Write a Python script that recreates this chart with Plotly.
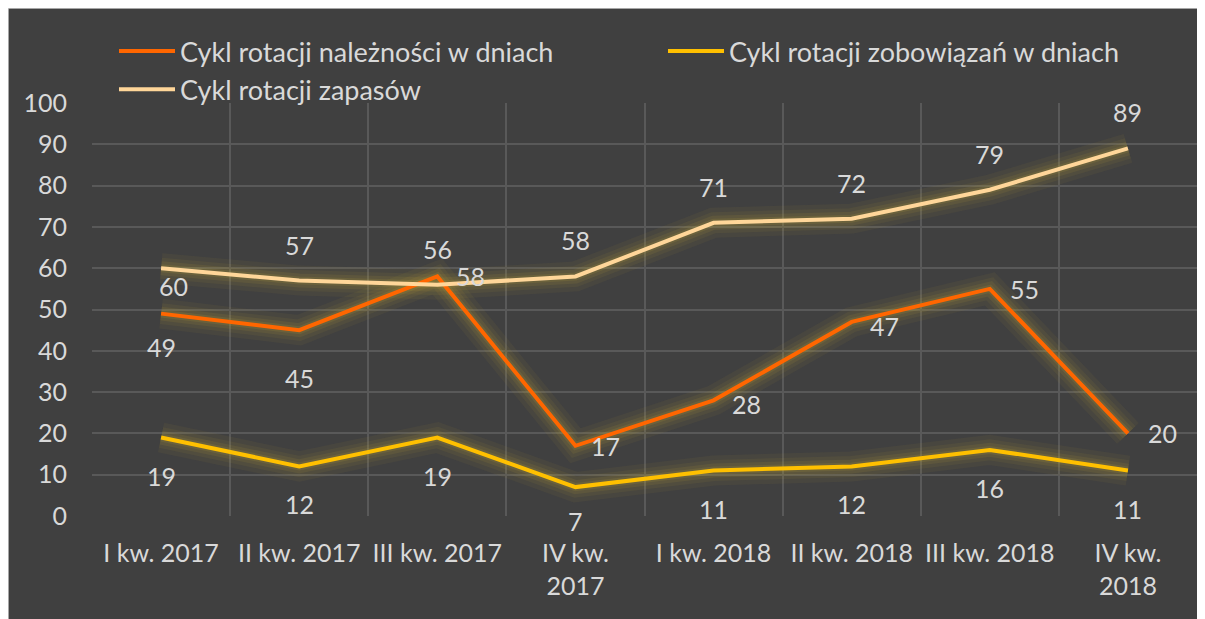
import plotly.graph_objects as go

categories = ["I kw. 2017", "II kw. 2017", "III kw. 2017", "IV kw.<br>2017",
              "I kw. 2018", "II kw. 2018", "III kw. 2018", "IV kw.<br>2018"]
naleznosci = [49, 45, 58, 17, 28, 47, 55, 20]
zobowiazania = [19, 12, 19, 7, 11, 12, 16, 11]
zapasy = [60, 57, 56, 58, 71, 72, 79, 89]

# label placement: (xshift, yshift) in pixels relative to each point
off_naleznosci = [(0, -33), (0, -48), (33, 0), (30, 0), (33, -4), (33, -4), (35, 0), (35, 0)]
off_zobowiazania = [(0, -38), (0, -38), (0, -38), (0, -34), (0, -38), (0, -38), (0, -38), (0, -38)]
off_zapasy = [(12, -18), (0, 36), (0, 36), (0, 36), (0, 36), (0, 36), (0, 36), (0, 36)]

names = ["Cykl rotacji należności w dniach", "Cykl rotacji zobowiązań w dniach",
         "Cykl rotacji zapasów"]
colors = ["#FF6600", "#FFC000", "#FFD699"]

FONT = "Lato"
TXT = "#D9D9D9"
W, H = 1197, 611
L, R, T, B = 84, 8, 95, 103

fig = go.Figure()

series = [naleznosci, zobowiazania, zapasy]
offsets = [off_naleznosci, off_zobowiazania, off_zapasy]

# glow layers
for vals in series:
    for w, a in [(30, 0.07), (21, 0.09), (14, 0.12), (8, 0.15)]:
        fig.add_trace(go.Scatter(x=categories, y=vals, mode="lines",
                                 line=dict(color=f"rgba(180,160,60,{a})", width=w),
                                 hoverinfo="skip", showlegend=False))

for vals, name, col in zip(series, names, colors):
    fig.add_trace(go.Scatter(
        x=categories, y=vals, mode="lines", name=name,
        line=dict(color=col, width=4),
    ))

for vals, offs in zip(series, offsets):
    for c, v, (dx, dy) in zip(categories, vals, offs):
        fig.add_annotation(x=c, y=v, text=str(v), showarrow=False,
                           xshift=dx, yshift=dy,
                           font=dict(family=FONT, size=25, color=TXT))

def px_x(p):
    return (p - L) / (W - L - R)

def px_y(p):
    return (H - B - p) / (H - T - B)

fig.add_shape(type="rect", xref="paper", yref="paper",
              x0=px_x(0), x1=px_x(W + 5), y0=px_y(H + 5), y1=px_y(0),
              fillcolor="#404040", line=dict(color="#C8C8C8", width=1.5), layer="below")

fig.update_layout(
    width=W, height=H,
    margin=dict(l=L, r=R, t=T, b=B, autoexpand=False),
    paper_bgcolor="#404040", plot_bgcolor="#404040",
    font=dict(family=FONT, size=25, color=TXT),
    showlegend=True,
    legend=dict(orientation="h", x=px_x(106), y=px_y(19), xanchor="left", yanchor="top",
                entrywidth=478, entrywidthmode="pixels",
                font=dict(family=FONT, size=27, color=TXT),
                bgcolor="rgba(0,0,0,0)", itemwidth=56, tracegroupgap=0),
    xaxis=dict(type="category", range=[-0.5, 7.5], tickson="boundaries",
               showgrid=True, gridcolor="#595959", gridwidth=1.5,
               showline=False, zeroline=False, ticks="",
               tickfont=dict(family=FONT, size=25, color=TXT),
               ticklabelstandoff=20),
    yaxis=dict(range=[0, 100], dtick=10, showgrid=True, gridcolor="#595959", gridwidth=1.5,
               zeroline=False, showline=False, ticks="",
               tickfont=dict(family=FONT, size=25, color=TXT),
               ticklabelstandoff=24),
)

fig.write_html("out.html")
